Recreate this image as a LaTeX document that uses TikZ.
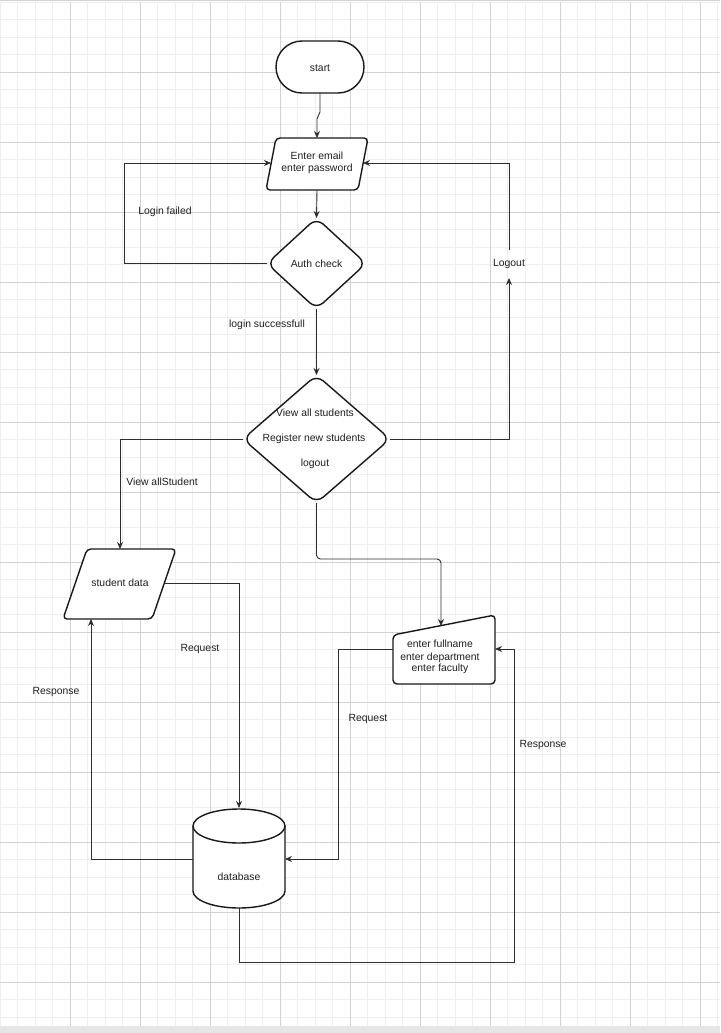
\documentclass[tikz,border=0pt]{standalone}
\usepackage{fontspec}
\setmainfont{Liberation Sans}
\usetikzlibrary{arrows.meta}
\definecolor{minorgrid}{HTML}{EFEFEF}
\definecolor{majorgrid}{HTML}{D2D2D2}
\definecolor{edgecol}{HTML}{2E2E2E}
\definecolor{bandcol}{HTML}{E6E6E6}
\tikzset{
  shapeline/.style={draw=black!90, line width=1.4pt, fill=white, line join=round},
  conn/.style={draw=edgecol, line width=0.9pt, -{Stealth[length=7pt,width=6pt]}},
  lbl/.style={font=\fontsize{10.4}{12.5}\selectfont, text=black!88, inner sep=1pt},
}
\begin{document}
\begin{tikzpicture}[x=1pt,y=-1pt]
\useasboundingbox (0,0) rectangle (720,1033);
% background grid
\fill[white] (0,0) rectangle (720,1033);
\foreach \x in {0,17.5,...,720} \draw[minorgrid, line width=0.7pt] (\x,2) -- (\x,1026);
\foreach \y in {2,19.5,...,1026} \draw[minorgrid, line width=0.7pt] (0,\y) -- (720,\y);
\foreach \x in {70,140,...,700} \draw[majorgrid, line width=0.8pt] (\x,2) -- (\x,1026);
\foreach \y in {72,142,...,1000} \draw[majorgrid, line width=0.8pt] (0,\y) -- (720,\y);
\draw[majorgrid, line width=1pt] (0,1) -- (720,1);
\fill[bandcol] (0,1026) rectangle (720,1033);

% start
\draw[shapeline, rounded corners=26pt] (276,41) rectangle (364,93);
\node[lbl] (start) at (320,68) {start};
\coordinate (startS) at (320,93);

% input
\draw[shapeline, rounded corners=4pt] (276,138) -- (368,138) -- (358,190) -- (266,190) -- cycle;
\node[lbl, align=center] (input) at (317,163) {Enter email\\enter password};
\coordinate (inN) at (317,138);
\coordinate (inS) at (317,190);
\coordinate (inW) at (271,163);
\coordinate (inE) at (363,163);

% auth check
\draw[shapeline, rounded corners=9pt] (316.5,218) -- (366,263.5) -- (316.5,309) -- (267,263.5) -- cycle;
\node[lbl] (auth) at (316.5,264) {Auth check};
\coordinate (authN) at (316.5,218);
\coordinate (authS) at (316.5,309);
\coordinate (authW) at (267,263.5);

% view diamond
\draw[shapeline, rounded corners=9pt] (316.5,375) -- (390,439) -- (316.5,503) -- (243,439) -- cycle;
\node[lbl] (v1) at (315,413) {View all students};
\node[lbl] (v2) at (314,439) {Register new students};
\node[lbl] (v3) at (315,464) {logout};
\coordinate (viewN) at (316.5,375);
\coordinate (viewS) at (316.5,503);
\coordinate (viewW) at (243,439);
\coordinate (viewE) at (390,439);

% student data
\draw[shapeline, rounded corners=4pt] (87,549) -- (176,549) -- (152,619) -- (63,619) -- cycle;
\node[lbl] (sd) at (120,583) {student data};
\coordinate (sdN) at (120,549);
\coordinate (sdS) at (91,619);
\coordinate (sdE) at (165,583);

% manual input
\draw[shapeline, rounded corners=4pt] (393,635) -- (495,615) -- (495,684) -- (393,684) -- cycle;
\node[lbl, align=center] (manual) at (440,657) {enter fullname\\[0.5pt]enter department\\[-1pt]enter faculty};
\coordinate (mN) at (441,626);
\coordinate (mW) at (393,649);
\coordinate (mE) at (495,649);

% database
\draw[shapeline] (193,826) -- (193,891) arc[start angle=180, end angle=360, x radius=46pt, y radius=17pt]
  -- (285,826) arc[start angle=0, end angle=180, x radius=46pt, y radius=17pt] -- cycle;
\draw[draw=black!90, line width=1.4pt] (193,826) arc[start angle=180, end angle=360, x radius=46pt, y radius=17pt];
\node[lbl] (db) at (239,877) {database};
\coordinate (dbN) at (239,808);
\coordinate (dbS) at (239,908);
\coordinate (dbW) at (193,859);
\coordinate (dbE) at (285,859);

% labels
\node[lbl] (lfail) at (165,212) {Login failed};
\node[lbl] (lsucc) at (267,325) {login successfull};
\node[lbl] (logout) at (509,264) {Logout};
\coordinate (logoutT) at (509,250);
\coordinate (logoutB) at (509,278);
\node[lbl] (lview) at (162,482) {View allStudent};
\node[lbl] (req1) at (200,649) {Request};
\node[lbl] (resp1) at (56,692) {Response};
\node[lbl] (req2) at (368,719) {Request};
\node[lbl] (resp2) at (543,745) {Response};

% connectors
\draw[conn] (startS) -- (320,112) -- (317,119) -- (inN);
\draw[conn] (inS) -- (authN);
\draw[conn] (authW) -- (124,263.5) |- (inW);
\draw[conn] (authS) -- (viewN);
\draw[conn] (viewE) -| (logoutB);
\draw[conn] (logoutT) |- (inE);
\draw[conn] (viewW) -| (sdN);
\draw[conn, rounded corners=4pt] (viewS) -- (316.5,559) -| (mN);
\draw[conn] (sdE) -| (dbN);
\draw[conn] (dbW) -| (sdS);
\draw[conn] (mW) -- (338,649) |- (dbE);
\draw[conn] (dbS) -- (239,962) -| (514,649) -- (mE);
\end{tikzpicture}
\end{document}
